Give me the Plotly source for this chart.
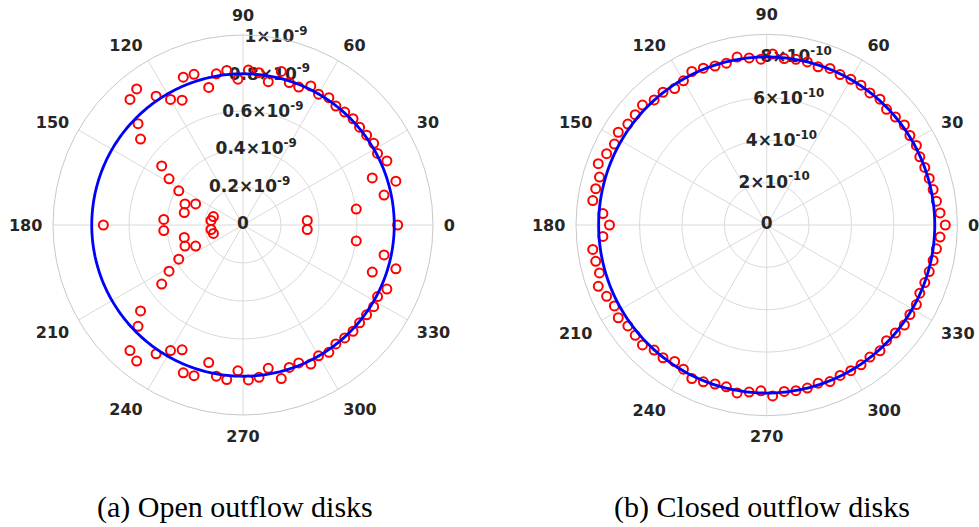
import numpy as np
import plotly.graph_objects as go

# Sample angles (degrees), one sample every 4 degrees
theta_deg = [0, 4, 8, 12, 16, 20, 24, 28, 32, 36, 40, 44, 48, 52, 56, 60, 64, 68, 72, 76,
             80, 84, 88, 92, 96, 100, 104, 108, 112, 116, 120, 124, 128, 132, 136, 140, 144,
             148, 152, 156, 160, 164, 168, 172, 176, 180, 184, 188, 192, 196, 200, 204, 208,
             212, 216, 220, 224, 228, 232, 236, 240, 244, 248, 252, 256, 260, 264, 268, 272,
             276, 280, 284, 288, 292, 296, 300, 304, 308, 312, 316, 320, 324, 328, 332, 336,
             340, 344, 348, 352, 356]

# Open outflow disks: radius in units of 1e-9
open_r = [0.814, 0.339, 0.602, 0.759, 0.837, 0.724, 0.829, 0.802, 0.811, 0.804, 0.801, 0.805,
          0.800, 0.794, 0.808, 0.795, 0.814, 0.783, 0.788, 0.833, 0.766, 0.806, 0.816, 0.768,
          0.818, 0.808, 0.746, 0.834, 0.839, 0.731, 0.763, 0.818, 0.909, 0.889, 0.768, 0.704,
          0.529, 0.459, 0.383, 0.273, 0.325, 0.162, 0.316, 0.170, 0.418, 0.735,
          0.418, 0.170, 0.316, 0.162, 0.325, 0.273, 0.383, 0.459, 0.529, 0.704, 0.768, 0.889,
          0.909, 0.818, 0.763, 0.731, 0.839, 0.834, 0.746, 0.808, 0.818, 0.768, 0.816, 0.806,
          0.766, 0.833, 0.788, 0.783, 0.814, 0.795, 0.808, 0.794, 0.800, 0.805, 0.801, 0.804,
          0.811, 0.802, 0.829, 0.724, 0.837, 0.759, 0.602, 0.339]

# Closed outflow disks: radius in units of 1e-9
closed_r = [0.843, 0.820, 0.809, 0.803, 0.798, 0.794, 0.791, 0.800, 0.797, 0.803, 0.793, 0.786,
            0.799, 0.791, 0.796, 0.794, 0.790, 0.797, 0.785, 0.793, 0.794, 0.790, 0.807, 0.783,
            0.793, 0.805, 0.787, 0.789, 0.798, 0.806, 0.786, 0.777, 0.795, 0.794, 0.815, 0.810,
            0.810, 0.826, 0.814, 0.827, 0.846, 0.821, 0.825, 0.829, 0.775, 0.742,
            0.775, 0.829, 0.825, 0.821, 0.846, 0.827, 0.814, 0.826, 0.810, 0.810, 0.815, 0.794,
            0.795, 0.777, 0.786, 0.806, 0.798, 0.789, 0.787, 0.805, 0.793, 0.783, 0.807, 0.790,
            0.794, 0.793, 0.785, 0.797, 0.790, 0.794, 0.796, 0.791, 0.799, 0.786, 0.793, 0.803,
            0.797, 0.800, 0.791, 0.794, 0.798, 0.803, 0.809, 0.820]

# Reference circle radii (units of 1e-9)
open_circle_r = 0.796
closed_circle_r = 0.793

# Radial ticks
open_rticks = [0, 0.2, 0.4, 0.6, 0.8, 1.0]
open_rlabels = ["0", "0.2×10<sup>-9</sup>", "0.4×10<sup>-9</sup>", "0.6×10<sup>-9</sup>",
                "0.8×10<sup>-9</sup>", "1×10<sup>-9</sup>"]
closed_rticks = [0, 0.2, 0.4, 0.6, 0.8]
closed_rlabels = ["0", "2×10<sup>-10</sup>", "4×10<sup>-10</sup>", "6×10<sup>-10</sup>",
                  "8×10<sup>-10</sup>"]
open_rmax = 1.0
closed_rmax = 0.9

angle_ticks = [0, 30, 60, 90, 120, 150, 180, 210, 240, 270, 300, 330]
captions = ["(a) Open outflow disks", "(b) Closed outflow disks"]

E = 1e-9
GRID = "#dadada"
EDGE = "#c8c8c8"
TXT = "#262626"
LABEL_FONT = dict(family="DejaVu Sans", size=16, color=TXT, weight="bold")
RLABEL_FONT = dict(family="DejaVu Sans", size=17, color=TXT, weight="bold")
CAPTION_FONT = dict(family="Liberation Serif", size=30, color="black")

fig = go.Figure()


def add_panel(subplot, r_vals, circle_r, rticks, rlabels):
    fig.add_trace(go.Scatterpolar(
        r=[v * E for v in rticks], theta=[80] * len(rticks), mode="text",
        text=rlabels, textposition="middle center", textfont=RLABEL_FONT,
        cliponaxis=False, hoverinfo="skip", subplot=subplot, showlegend=False))
    fig.add_trace(go.Scatterpolar(
        r=[v * E for v in r_vals], theta=theta_deg, mode="markers",
        marker=dict(symbol="circle-open", size=9, color="#ff0000",
                    line=dict(width=2, color="#ff0000")),
        subplot=subplot, showlegend=False))
    circ_t = np.linspace(0, 360, 361)
    fig.add_trace(go.Scatterpolar(
        r=np.full(circ_t.shape, circle_r * E), theta=circ_t, mode="lines",
        line=dict(color="#0000ff", width=2.8),
        subplot=subplot, showlegend=False))


add_panel("polar", open_r, open_circle_r, open_rticks, open_rlabels)
add_panel("polar2", closed_r, closed_circle_r, closed_rticks, closed_rlabels)


def polar_layout(xdom, ydom, rmax, rticks):
    return dict(
        domain=dict(x=xdom, y=ydom),
        bgcolor="white",
        radialaxis=dict(range=[0, rmax * E], tickvals=[v * E for v in rticks if v > 0],
                        showticklabels=False, ticks="", showline=False,
                        gridcolor=GRID, gridwidth=1, angle=80),
        angularaxis=dict(tickvals=angle_ticks, ticktext=[str(a) for a in angle_ticks],
                         rotation=0, direction="counterclockwise",
                         gridcolor=GRID, gridwidth=1,
                         showline=True, linecolor=EDGE, linewidth=1,
                         ticks="outside", ticklen=7, tickcolor="rgba(0,0,0,0)",
                         tickfont=LABEL_FONT),
    )


W, H = 979, 527
fig.update_layout(
    width=W, height=H,
    margin=dict(l=0, r=0, t=0, b=0),
    paper_bgcolor="white",
    plot_bgcolor="white",
    showlegend=False,
    polar=polar_layout([(243 - 190) / W, (243 + 190) / W],
                       [(302 - 190) / H, (302 + 190) / H], open_rmax, open_rticks),
    polar2=polar_layout([(766.7 - 190.7) / W, (766.7 + 190.7) / W],
                        [(302 - 190.7) / H, (302 + 190.7) / H], closed_rmax, closed_rticks),
    annotations=[
        dict(text=captions[0], x=235 / W, y=(H - 507) / H, xref="paper", yref="paper",
             showarrow=False, xanchor="center", yanchor="middle", font=CAPTION_FONT),
        dict(text=captions[1], x=762 / W, y=(H - 507) / H, xref="paper", yref="paper",
             showarrow=False, xanchor="center", yanchor="middle", font=CAPTION_FONT),
    ],
)

fig.write_html("out.html")
